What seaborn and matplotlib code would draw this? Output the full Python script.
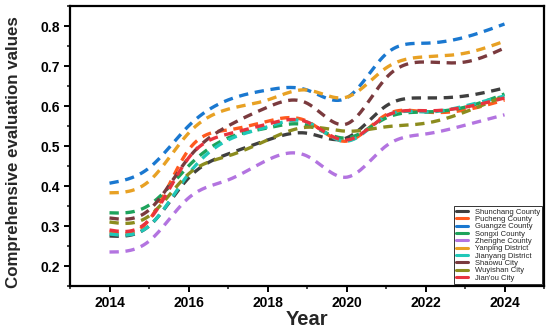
import numpy as np
import pandas as pd
import matplotlib
matplotlib.use("Agg")
import matplotlib.pyplot as plt
from matplotlib.ticker import MultipleLocator
import seaborn as sns

years = [2014, 2015, 2016, 2017, 2018, 2019, 2020, 2021, 2022, 2023, 2024]

names = ["Shunchang County", "Pucheng County", "Guangze County", "Songxi County",
         "Zhenghe County", "Yanping District", "Jianyang District", "Shaowu City",
         "Wuyishan City", "Jian'ou City"]

shunchang = [0.275, 0.30, 0.42, 0.48, 0.515, 0.532, 0.52, 0.60, 0.62, 0.625, 0.645]
pucheng   = [0.285, 0.315, 0.49, 0.54, 0.562, 0.562, 0.512, 0.578, 0.585, 0.59, 0.615]
guangze   = [0.407, 0.445, 0.55, 0.615, 0.64, 0.64, 0.62, 0.73, 0.757, 0.772, 0.805]
songxi    = [0.333, 0.352, 0.45, 0.52, 0.545, 0.552, 0.52, 0.57, 0.585, 0.597, 0.63]
zhenghe   = [0.235, 0.262, 0.37, 0.415, 0.465, 0.475, 0.422, 0.50, 0.53, 0.552, 0.578]
yanping   = [0.383, 0.412, 0.532, 0.592, 0.615, 0.64, 0.622, 0.695, 0.723, 0.732, 0.762]
jianyang  = [0.28, 0.30, 0.43, 0.515, 0.548, 0.56, 0.512, 0.575, 0.585, 0.60, 0.625]
shaowu    = [0.32, 0.34, 0.47, 0.55, 0.597, 0.607, 0.555, 0.67, 0.71, 0.71, 0.745]
wuyishan  = [0.31, 0.325, 0.43, 0.475, 0.515, 0.547, 0.537, 0.548, 0.557, 0.585, 0.625]
jianou    = [0.29, 0.315, 0.47, 0.53, 0.555, 0.56, 0.515, 0.575, 0.588, 0.597, 0.62]

series = [shunchang, pucheng, guangze, songxi, zhenghe, yanping, jianyang, shaowu, wuyishan, jianou]
colors = ["#3f3f3f", "#ff5a1f", "#1a78d0", "#1ea35c", "#b374e0", "#e8a124",
          "#20c8b8", "#7a3a3e", "#8c8c1e", "#e8333e"]


def natural_spline(x, y, n=300):
    x = np.asarray(x, float); y = np.asarray(y, float)
    k = len(x); h = np.diff(x)
    A = np.zeros((k, k)); b = np.zeros(k)
    A[0, 0] = A[-1, -1] = 1
    for i in range(1, k - 1):
        A[i, i - 1] = h[i - 1]; A[i, i] = 2 * (h[i - 1] + h[i]); A[i, i + 1] = h[i]
        b[i] = 3 * ((y[i + 1] - y[i]) / h[i] - (y[i] - y[i - 1]) / h[i - 1])
    c = np.linalg.solve(A, b)
    xs = np.linspace(x[0], x[-1], n)
    idx = np.clip(np.searchsorted(x, xs) - 1, 0, k - 2)
    dx = xs - x[idx]
    bb = (y[idx + 1] - y[idx]) / h[idx] - h[idx] * (2 * c[idx] + c[idx + 1]) / 3
    dd = (c[idx + 1] - c[idx]) / (3 * h[idx])
    ys = y[idx] + bb * dx + c[idx] * dx ** 2 + dd * dx ** 3
    return xs, ys


sns.set_style("ticks")
plt.rcParams['font.family'] = ['Liberation Sans', 'DejaVu Sans']

fig = plt.figure(figsize=(5.5, 3.28), dpi=100)
ax = fig.add_axes([70 / 550, 1 - 286 / 328, (544 - 70) / 550, (286 - 6) / 328])

for name, vals, col in zip(names, series, colors):
    xs, ys = natural_spline(years, vals)
    df = pd.DataFrame({"Year": xs, "Value": ys})
    sns.lineplot(data=df, x="Year", y="Value", ax=ax, color=col, lw=2.4,
                 linestyle=(0, (2.8, 2.0)), label=name)

ax.set_xlim(2013, 2025)
ax.set_ylim(0.15, 0.85)
ax.xaxis.set_major_locator(MultipleLocator(2))
ax.xaxis.set_minor_locator(MultipleLocator(1))
ax.yaxis.set_minor_locator(MultipleLocator(0.05))
ax.set_yticks([0.2, 0.3, 0.4, 0.5, 0.6, 0.7, 0.8])
ax.set_yticklabels(["0.2", "0.3", "0.4", "0.5", "0.6", "0.7", "0.8"])
for s in ax.spines.values():
    s.set_visible(True)
    s.set_linewidth(1.6)
    s.set_color("black")
ax.tick_params(axis="both", which="major", direction="out", length=4, width=1.4,
               labelsize=10, pad=3, colors="black")
ax.tick_params(axis="both", which="minor", direction="out", length=2.5, width=1.2)
for lab in ax.get_xticklabels() + ax.get_yticklabels():
    lab.set_fontweight("bold")

ax.set_xlabel("Year", fontsize=14.5, fontweight="bold", labelpad=0)
ax.set_ylabel("Comprehensive evaluation values", fontsize=12.2, fontweight="bold")
ax.yaxis.set_label_coords(-0.104, 0.48)

leg = ax.legend(loc="lower right", fontsize=5.5, frameon=True, fancybox=False,
                edgecolor="black", borderpad=0.25, labelspacing=0.0,
                handlelength=1.5, handletextpad=0.9, borderaxespad=0.3)
leg.get_frame().set_linewidth(0.7)
for h in leg.get_lines():
    h.set_linestyle("-")
    h.set_linewidth(2.2)

fig.savefig("out.png", dpi=100)
